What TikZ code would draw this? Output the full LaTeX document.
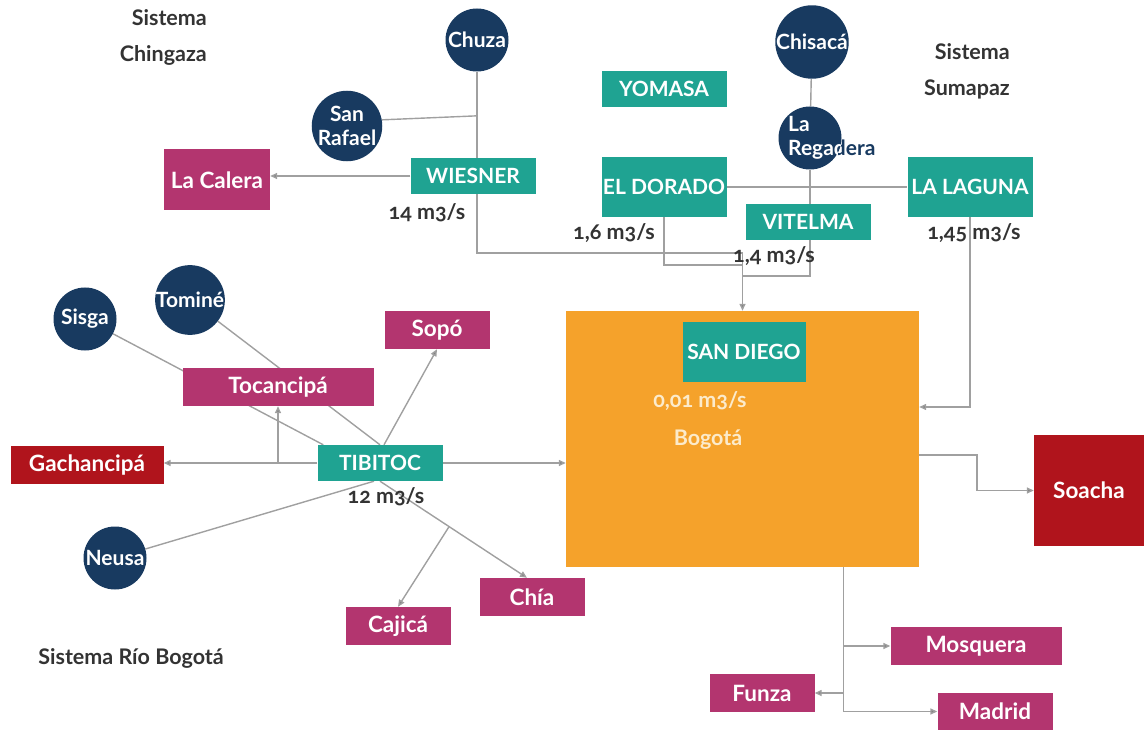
\documentclass[tikz,border=0pt]{standalone}
\usepackage{fontspec}
\setmainfont{Lato}[Numbers=OldStyle]
\usetikzlibrary{arrows.meta}
\usetikzlibrary{backgrounds}
\definecolor{navyres}{HTML}{183A60}
\definecolor{tealplant}{HTML}{1FA392}
\definecolor{magmuni}{HTML}{B3356F}
\definecolor{redmuni}{HTML}{B0141C}
\definecolor{bogfill}{HTML}{F5A22B}
\definecolor{bogtxt}{HTML}{FCEBCB}
\definecolor{linegray}{HTML}{A0A0A0}
\definecolor{darktxt}{HTML}{333333}
\newcommand{\boxfont}{\fontsize{21}{24}\selectfont\bfseries}
\newcommand{\munifont}{\fontsize{22.5}{24}\selectfont\bfseries}
\newcommand{\resfont}{\fontsize{21}{24}\selectfont\bfseries}
\newcommand{\labfont}{\fontsize{21.5}{24}\selectfont\bfseries}

\begin{document}
\begin{tikzpicture}[x=1pt,y=-1pt,
    embalse/.style={circle,fill=navyres,minimum size=63pt,inner sep=0pt,
        text=white,font=\resfont,align=center},
    regtext/.style={anchor=west,font=\resfont,align=left,inner sep=0pt},
    planta/.style={fill=tealplant,text=white,font=\boxfont,
        minimum width=125pt,minimum height=36pt,inner sep=0pt},
    muni/.style={fill=magmuni,text=white,font=\munifont,
        minimum height=38pt,inner sep=0pt},
    munirojo/.style={muni,fill=redmuni},
    caudal/.style={text=darktxt,font=\labfont,inner sep=0pt},
    bogtext/.style={text=bogtxt,font=\labfont,inner sep=0pt},
    sistema/.style={text=darktxt,font=\labfont,inner sep=0pt},
    link/.style={draw=linegray,line width=1.4pt},
    flow/.style={link,-{Triangle[length=7pt,width=6pt,fill=gray]}}]
    \useasboundingbox (0,0) rectangle (1144,730);

    \node[sistema,anchor=east] (chingazaa) at (207,18) {Sistema};
    \node[sistema,anchor=east] (chingazab) at (207,55) {Chingaza};
    \node[sistema,anchor=east] (sumapaza) at (1010,52) {Sistema};
    \node[sistema,anchor=east] (sumapazb) at (1010,89) {Sumapaz};
    \node[sistema] (riobogota) at (131,658) {Sistema Río Bogotá};

    \node[embalse] (chuza) at (477,40) {Chuza};
    \node[embalse] (sanrafael) at (347,126) {San\\Rafael};
    \node[embalse] (chisaca) at (812,42) {Chisacá};
    \node[embalse] (regadera) at (810,138) {};
    \node[regtext,text=navyres] (regaderatxt) at (788,138) {La\\Regadera};
    \begin{scope}
        \clip (regadera.center) circle[radius=31.5pt];
        \node[regtext,text=white] (regaderablanco) at (regaderatxt.west) {La\\Regadera};
    \end{scope}
    \node[embalse] (sisga) at (85,319) {Sisga};
    \node[embalse] (tomine) at (190,300) {Tominé};
    \node[embalse] (neusa) at (115,558) {Neusa};

    \node[fill=bogfill,minimum width=353pt,minimum height=256pt,inner sep=0pt] (bogota) at (742.5,439) {};
    \node[bogtext] (bogcaudal) at (700,401) {0,01 m3/s};
    \node[bogtext] (bogname) at (708,440) {Bogotá};

    \node[planta] (yomasa) at (664,89) {YOMASA};
    \node[planta] (wiesner) at (473,176) {WIESNER};
    \node[planta,minimum height=60pt] (eldorado) at (664,187) {EL DORADO};
    \node[planta] (vitelma) at (808,222) {VITELMA};
    \node[planta,minimum height=60pt] (lalaguna) at (970,187) {LA LAGUNA};
    \node[planta,minimum width=123pt,minimum height=60pt] (sandiego) at (744,352) {SAN DIEGO};
    \node[planta] (tibitoc) at (380,463) {TIBITOC};

    \node[muni,minimum width=106pt,minimum height=61pt] (lacalera) at (217,180) {La Calera};
    \node[muni,minimum width=105pt] (sopo) at (437,330) {Sopó};
    \node[muni,minimum width=191pt] (tocancipa) at (278,387) {Tocancipá};
    \node[muni,minimum width=105pt] (cajica) at (398,626) {Cajicá};
    \node[muni,minimum width=105pt] (chia) at (532,597) {Chía};
    \node[muni,minimum width=171pt] (mosquera) at (976,646) {Mosquera};
    \node[muni,minimum width=105pt] (funza) at (762,693) {Funza};
    \node[muni,minimum width=115pt,minimum height=37pt] (madrid) at (995,711.5) {Madrid};
    \node[munirojo,minimum width=153pt] (gachancipa) at (87,465) {Gachancipá};
    \node[munirojo,minimum width=110pt,minimum height=111pt] (soacha) at (1089,490.5) {Soacha};

    \node[caudal] (wcaudal) at (427,213) {14 m3/s};
    \node[caudal] (dcaudal) at (614,233) {1,6 m3/s};
    \node[caudal] (vcaudal) at (774,256) {1,4 m3/s};
    \node[caudal] (lcaudal) at (974,233) {1,45 m3/s};
    \node[caudal] (tcaudal) at (386,497) {12 m3/s};

    \coordinate (wjoin) at (742.5,253);
    \coordinate (djoin) at (742.5,265);
    \coordinate (vjoin) at (742.5,276);
    \coordinate (soajoin) at (977,455);
    \coordinate (bogbot) at ([xshift=101pt]bogota.south);

    \begin{scope}[on background layer]
        \draw[link] (chuza) |- (wjoin);
        \draw[link] (sanrafael.10) -- ([yshift=4pt]sanrafael.10 -| chuza);
        \draw[flow] (wiesner.west) -- (wiesner.west -| lacalera.east);
        \draw[link] (chisaca) -- (regadera);
        \draw[link] (regadera) |- (vjoin);
        \draw[link] (eldorado) |- (djoin);
        \draw[link] (eldorado.east) -- (lalaguna.west);
        \draw[flow] (wjoin) -- (bogota.north);
        \draw[flow] (lalaguna) |- ([yshift=32pt]bogota.east);
        \draw[flow] ([yshift=-16pt]bogota.east) -- (soajoin) |- (soacha.west);
        \draw[flow] (bogbot) |- (madrid.west);
        \draw[flow] (bogbot |- mosquera.west) -- (mosquera.west);
        \draw[flow] (bogbot |- funza.east) -- (funza.east);

        \draw[flow] (tibitoc.east) -- (tibitoc.east -| bogota.west);
        \draw[flow] (tibitoc.west) -- (tibitoc.west -| gachancipa.east);
        \draw[flow] (tibitoc.west -| tocancipa.south) -- (tocancipa.south);
        \draw[link] (sisga) -- ([xshift=6pt]tibitoc.north west);
        \draw[link] (tomine) -- (tibitoc.north);
        \draw[link] (neusa) -- ([xshift=-6pt]tibitoc.south);
        \draw[flow] ([xshift=4pt]tibitoc.north) -- (sopo.south);
        \path (tibitoc.south) -- ([xshift=-5pt]chia.north) coordinate[pos=0.47] (cajjoin);
        \draw[flow] (tibitoc.south) -- ([xshift=-5pt]chia.north);
        \draw[flow] (cajjoin) -- (cajica.north);
    \end{scope}
\end{tikzpicture}
\end{document}
